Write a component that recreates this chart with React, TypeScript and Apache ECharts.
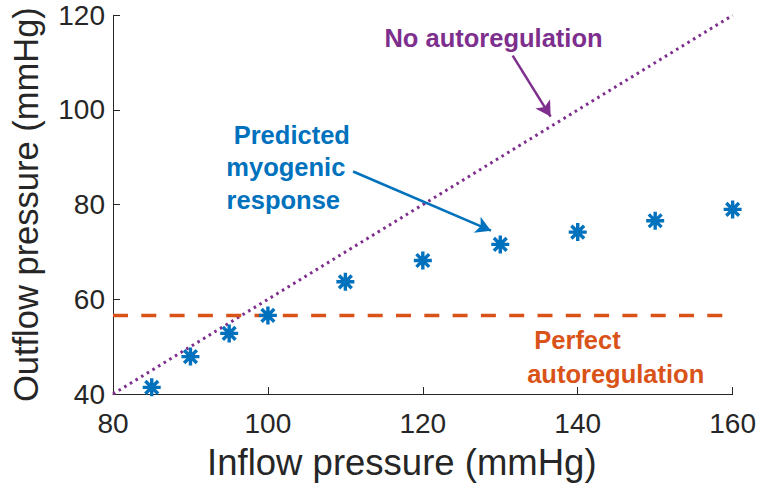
import React, { useEffect, useRef } from "react";
import * as echarts from "echarts";

// Predicted myogenic response (inflow vs outflow pressure, mmHg)
const inflow = [85, 90, 95, 100, 110, 120, 130, 140, 150, 160];
const outflow = [41.4, 47.9, 52.8, 56.6, 63.7, 68.2, 71.6, 74.2, 76.6, 79.0];

// No autoregulation: outflow follows inflow
const noAutoX = [80, 160];
const noAutoY = [40, 120];

// Perfect autoregulation: constant outflow
const perfectX = [80, 160];
const perfectY = [56.6, 56.6];

// Axis ticks
const xTicks = [80, 100, 120, 140, 160];
const yTicks = [40, 60, 80, 100, 120];

// Annotation arrows in data coordinates [from, to]
const purpleArrow = [[131.6, 111.5], [136.5, 98.6]];
const blueArrow = [[111.0, 87.0], [128.8, 74.5]];

const PURPLE = "#7E2F8E";
const BLUE = "#0072BD";
const ORANGE = "#D95319";
const AXIS = "#262626";
const FONT = "'Liberation Sans', Arial, Helvetica, sans-serif";

const asterisk =
  "path://M10,0L10,20M0,10L20,10M2.93,2.93L17.07,17.07M2.93,17.07L17.07,2.93";

export default function App() {
  const ref = useRef<HTMLDivElement>(null);
  useEffect(() => {
    if (!ref.current) return;
    const chart = echarts.init(ref.current, null, { renderer: "svg" });
    const annFont = 25.5;
    const t = (text: string, x: number, y: number, fill: string) => ({
      type: "text",
      x,
      y,
      style: { text, fill, font: `bold ${annFont}px ${FONT}`, textAlign: "center", textVerticalAlign: "middle" },
    });
    chart.setOption({
      animation: false,
      backgroundColor: "#ffffff",
      grid: { left: 111, right: 26, top: 15.3, bottom: 93 },
      xAxis: {
        type: "value",
        min: xTicks[0],
        max: xTicks[xTicks.length - 1],
        interval: xTicks[1] - xTicks[0],
        name: "Inflow pressure (mmHg)",
        nameLocation: "middle",
        nameGap: 50,
        nameTextStyle: { fontFamily: FONT, fontSize: 36.5, color: AXIS, padding: [0, 42, 0, 0] },
        axisLine: { show: true, onZero: false, lineStyle: { color: AXIS, width: 1 } },
        axisTick: { show: true, inside: true, length: 7, lineStyle: { color: AXIS } },
        axisLabel: { fontFamily: FONT, fontSize: 28, color: AXIS, margin: 15 },
        splitLine: { show: false },
      },
      yAxis: {
        type: "value",
        min: yTicks[0],
        max: yTicks[yTicks.length - 1],
        interval: yTicks[1] - yTicks[0],
        name: "Outflow pressure (mmHg)",
        nameLocation: "middle",
        nameGap: 70,
        nameTextStyle: { fontFamily: FONT, fontSize: 34.5, color: AXIS },
        axisLine: { show: true, onZero: false, lineStyle: { color: AXIS, width: 1 } },
        axisTick: { show: true, inside: true, length: 7, lineStyle: { color: AXIS } },
        axisLabel: { fontFamily: FONT, fontSize: 28, color: AXIS, margin: 8 },
        splitLine: { show: false },
      },
      series: [
        {
          name: "No autoregulation",
          type: "line",
          data: noAutoX.map((x, i) => [x, noAutoY[i]]),
          showSymbol: false,
          symbol: "none",
          lineStyle: { color: PURPLE, width: 3, type: [2.6, 4], cap: "butt" },
          z: 2,
          markLine: {
            silent: true,
            symbol: ["none", "arrow"],
            symbolSize: [13, 15],
            label: { show: false },
            lineStyle: { color: PURPLE, width: 2.5, type: "solid" },
            data: [[{ coord: purpleArrow[0] }, { coord: purpleArrow[1] }]],
          },
        },
        {
          name: "Perfect autoregulation",
          type: "line",
          data: perfectX.map((x, i) => [x, perfectY[i]]),
          showSymbol: false,
          symbol: "none",
          lineStyle: { color: ORANGE, width: 3.5, type: [15, 13.3], cap: "butt" },
          z: 2,
        },
        {
          name: "Predicted myogenic response",
          type: "scatter",
          data: inflow.map((x, i) => [x, outflow[i]]),
          symbol: asterisk,
          symbolSize: 18,
          itemStyle: { color: "none", borderColor: BLUE, borderWidth: 3.4, opacity: 1 },
          z: 3,
          markLine: {
            silent: true,
            symbol: ["none", "arrow"],
            symbolSize: [13, 15],
            label: { show: false },
            lineStyle: { color: BLUE, width: 2.5, type: "solid", opacity: 1 },
            data: [[{ coord: blueArrow[0] }, { coord: blueArrow[1] }]],
          },
        },
      ],
      graphic: [
        t("No autoregulation", 493.5, 37.5, PURPLE),
        t("Predicted", 291.8, 135.1, BLUE),
        t("myogenic", 285.8, 166.8, BLUE),
        t("response", 283.3, 200, BLUE),
        t("Perfect", 577.5, 340, ORANGE),
        t("autoregulation", 615.7, 373.5, ORANGE),
      ],
    });
    return () => chart.dispose();
  }, []);
  return (
    <div
      ref={ref}
      style={{ position: "fixed", left: 0, top: 0, width: 759, height: 487, background: "#fff" }}
    />
  );
}
